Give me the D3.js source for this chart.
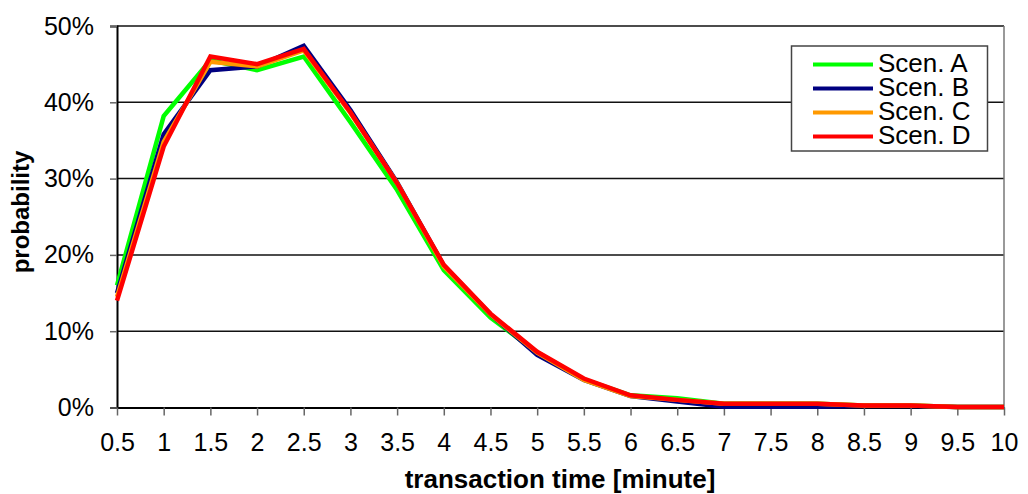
<!DOCTYPE html>
<html>
<head>
<meta charset="utf-8">
<script src="https://cdn.jsdelivr.net/npm/d3@7"></script>
<style>
  html, body { margin: 0; padding: 0; background: #fff; }
  svg { display: block; font-family: "Liberation Sans", Arial, sans-serif; }
</style>
</head>
<body>
<svg id="chart" width="1028" height="494"></svg>
<script>
// transaction time categories (minutes)
const times = ["0.5","1","1.5","2","2.5","3","3.5","4","4.5","5","5.5","6","6.5","7","7.5","8","8.5","9","9.5","10"];

// probability per scenario (fractions)
const scenA = [0.160,0.382,0.455,0.442,0.460,0.374,0.285,0.180,0.118,0.072,0.037,0.016,0.012,0.005,0.005,0.005,0.0025,0.0025,0.0005,0.0005];
const scenB = [0.150,0.358,0.442,0.447,0.474,0.390,0.295,0.186,0.122,0.069,0.036,0.015,0.008,0.001,0.001,0.001,0.002,0.002,0.0005,0.0005];
const scenC = [0.145,0.348,0.453,0.447,0.468,0.386,0.294,0.185,0.122,0.072,0.036,0.015,0.010,0.005,0.005,0.005,0.0025,0.0025,0.0005,0.0005];
const scenD = [0.140,0.342,0.460,0.450,0.470,0.387,0.294,0.187,0.123,0.073,0.038,0.016,0.010,0.005,0.005,0.005,0.0025,0.0025,0.0005,0.0005];

const seriesNames = ["Scen. A","Scen. B","Scen. C","Scen. D"];
const seriesColors = ["#00ff00","#000080","#ff9900","#ff0000"];
const yTicks = [0,0.1,0.2,0.3,0.4,0.5];

const series = [scenA, scenB, scenC, scenD].map((values, i) => ({
  name: seriesNames[i], color: seriesColors[i], values
}));

const svg = d3.select("#chart");
const plotLeft = 117, plotRight = 1004, plotTop = 26, plotBottom = 407.5;

const x = d3.scalePoint().domain(times).range([plotLeft, plotRight]);
const y = d3.scaleLinear().domain([0, 0.5]).range([plotBottom, plotTop]);

// horizontal gridlines
svg.append("g")
  .selectAll("line")
  .data(yTicks.filter(d => d > 0))
  .join("line")
  .attr("x1", plotLeft).attr("x2", plotRight)
  .attr("y1", d => y(d)).attr("y2", d => y(d))
  .attr("stroke", "#111").attr("stroke-width", 1.5);

// right border of the plot area
svg.append("line")
  .attr("x1", plotRight).attr("x2", plotRight)
  .attr("y1", plotTop).attr("y2", plotBottom)
  .attr("stroke", "#777").attr("stroke-width", 1.5);

// y axis
const yAxis = svg.append("g")
  .attr("transform", `translate(${plotLeft},0)`)
  .call(d3.axisLeft(y).tickValues(yTicks).tickFormat(d3.format(".0%")).tickSize(7).tickPadding(16));
yAxis.select(".domain").attr("stroke", "#000").attr("stroke-width", 2);
yAxis.selectAll(".tick line").attr("stroke", "#666").attr("stroke-width", 1.5);
yAxis.selectAll(".tick text").attr("font-size", 25).attr("fill", "#000")
  .attr("font-family", "Liberation Sans, Arial, sans-serif");

// x axis
const xAxis = svg.append("g")
  .attr("transform", `translate(0,${plotBottom})`)
  .call(d3.axisBottom(x).tickSize(8).tickSizeOuter(0).tickPadding(18));
xAxis.select(".domain").attr("stroke", "#000").attr("stroke-width", 2);
xAxis.selectAll(".tick line").attr("stroke", "#666").attr("stroke-width", 1.5);
xAxis.selectAll(".tick text").attr("font-size", 25).attr("fill", "#000")
  .attr("font-family", "Liberation Sans, Arial, sans-serif");

// series lines
const line = d3.line()
  .x((d, i) => x(times[i]))
  .y(d => y(d));

svg.append("g")
  .selectAll("path")
  .data(series)
  .join("path")
  .attr("d", d => line(d.values))
  .attr("fill", "none")
  .attr("stroke", d => d.color)
  .attr("stroke-width", 4.5)
  .attr("stroke-linejoin", "miter");

// axis titles
svg.append("text")
  .attr("x", 560).attr("y", 488)
  .attr("text-anchor", "middle")
  .attr("font-size", 26).attr("font-weight", "bold")
  .text("transaction time [minute]");

svg.append("text")
  .attr("transform", "translate(29,212) rotate(-90)")
  .attr("text-anchor", "middle")
  .attr("font-size", 24).attr("font-weight", "bold")
  .text("probability");

// legend
const legend = svg.append("g");
legend.append("rect")
  .attr("x", 791.5).attr("y", 46).attr("width", 196).attr("height", 105)
  .attr("fill", "#fff").attr("stroke", "#444").attr("stroke-width", 1.5);

const item = legend.selectAll("g.item")
  .data(series)
  .join("g")
  .attr("class", "item")
  .attr("transform", (d, i) => `translate(0,${64.5 + i * 24})`);
item.append("line")
  .attr("x1", 813).attr("x2", 873)
  .attr("stroke", d => d.color).attr("stroke-width", 4);
item.append("text")
  .attr("x", 878).attr("y", 7)
  .attr("font-size", 26)
  .text(d => d.name);
</script>
</body>
</html>
